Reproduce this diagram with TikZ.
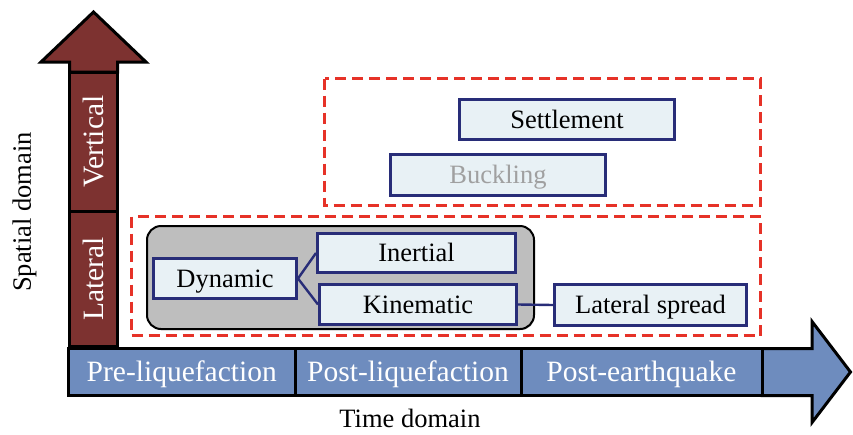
\documentclass[tikz,border=0pt]{standalone}
\usepackage{fontspec}
\setmainfont{Liberation Serif}
\usetikzlibrary{shadows}
\definecolor{darkred}{RGB}{125,50,48}
\definecolor{barblue}{RGB}{110,140,190}
\definecolor{boxfill}{RGB}{232,241,245}
\definecolor{navy}{RGB}{40,45,120}
\definecolor{grayfill}{RGB}{190,190,190}
\definecolor{dashred}{RGB}{230,50,40}
\definecolor{fadedtext}{RGB}{160,160,160}
\begin{document}
\begin{tikzpicture}[x=1pt,y=-1pt,
  bigfont/.style={font=\fontsize{29.5}{32}\selectfont, text height=19.5pt, text depth=0pt},
  smallfont/.style={font=\fontsize{26.5}{30}\selectfont, text height=17.5pt, text depth=0pt},
  cellbox/.style={draw=black, line width=3pt, inner sep=0pt, bigfont},
  vcell/.style={cellbox, fill=darkred, text=white, rotate=90},
  hcell/.style={cellbox, fill=barblue, text=white},
  arrowpart/.style={draw=black, line width=3pt, line join=miter},
  box/.style={draw=navy, fill=boxfill, line width=3pt, inner sep=0pt, smallfont,
    general shadow={fill=black, opacity=0.22, shadow xshift=0.8pt, shadow yshift=-1.2pt, shadow scale=1.0}},
  conn/.style={draw=navy, line width=2.4pt},
  reddash/.style={draw=dashred, line width=3.5pt, dash pattern=on 11pt off 6pt},
  groupbox/.style={draw=black, fill=grayfill, line width=2pt, rounded corners=14pt,
    general shadow={fill=black, opacity=0.2, shadow xshift=0.8pt, shadow yshift=-1.2pt}},
  plain/.style={smallfont, inner sep=0pt}
]
\useasboundingbox (0,0) rectangle (853,434);

% dashed groupings
\draw[reddash] (324.5,78.5) rectangle (760.5,205.5);
\draw[reddash] (131.5,216.5) rectangle (760.5,335.5);

% spatial axis arrow
\draw[arrowpart, fill=darkred] (69.5,72) -- (69.5,62) -- (41,62) -- (93.5,12) -- (146,62) -- (117.5,62) -- (117.5,72) -- cycle;
\node[vcell, minimum width=139pt, minimum height=48pt] (vert) at (93.5,141.5) {Vertical};
\node[vcell, minimum width=135.5pt, minimum height=48pt] (lat) at (93.5,278.75) {Lateral};

% time axis arrow
\draw[arrowpart, fill=barblue] (762,348.5) -- (812,348.5) -- (812,321.5) -- (850.5,372) -- (812,422.5) -- (812,395.5) -- (762,395.5) -- cycle;
\node[hcell, minimum width=226.5pt, minimum height=47pt] (pre) at (181.75,372) {Pre-liquefaction};
\node[hcell, minimum width=226pt, minimum height=47pt] (postliq) at (408,372) {Post-liquefaction};
\node[hcell, minimum width=241pt, minimum height=47pt] (posteq) at (641.5,372) {Post-earthquake};

% axis titles
\node[plain, rotate=90] (spatial) at (22,212) {Spatial domain};
\node[plain] (time) at (410,419) {Time domain};

% grey group
\node[groupbox, minimum width=387pt, minimum height=103pt] (group) at (340.5,277.5) {};

% boxes
\node[box, minimum width=215pt, minimum height=40pt] (settle) at (567,119.5) {Settlement};
\node[box, minimum width=215pt, minimum height=41pt, text=fadedtext] (buck) at (498,175) {Buckling};
\node[box, minimum width=143pt, minimum height=40pt] (dyn) at (225,278.5) {Dynamic};
\node[box, minimum width=198pt, minimum height=39pt] (iner) at (416.5,253) {Inertial};
\node[box, minimum width=197pt, minimum height=40pt] (kin) at (418,304.5) {Kinematic};
\node[box, minimum width=192pt, minimum height=41pt] (latsp) at (650.5,305) {Lateral spread};

% connectors
\draw[conn] (dyn.east) -- (iner.west);
\draw[conn] (dyn.east) -- (kin.west);
\draw[conn] (kin.east) -- (latsp.west);
\end{tikzpicture}
\end{document}
